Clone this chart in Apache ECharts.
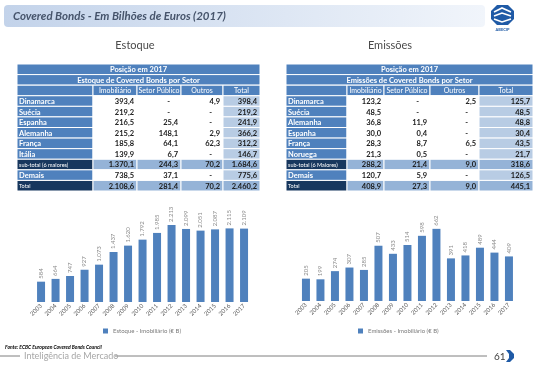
<!DOCTYPE html>
<html><head><meta charset="utf-8">
<script src="https://cdn.jsdelivr.net/npm/echarts@6/dist/echarts.min.js"></script>
<style>html,body{margin:0;padding:0;background:#fff}#c{width:544px;height:369px}</style>
</head><body><div id="c"></div>
<script>
// ---- Data ----
const years = ['2003','2004','2005','2006','2007','2008','2009','2010','2011','2012','2013','2014','2015','2016','2017'];
const estoqueImob = [584,664,747,927,1073,1437,1620,1792,1985,2213,2099,2051,2087,2115,2109];
const emissoesImob = [205,199,274,307,285,507,433,514,598,662,391,418,489,444,409];

const colHeaders = ['Imobiliário','Setor Público','Outros','Total'];

const estCountries = ['Dinamarca','Suécia','Espanha','Alemanha','França','Itália','sub-total (6 maiores)','Demais','Total'];
const estImob  = [393.4,219.2,216.5,215.2,185.8,139.9,1370.1,738.5,2108.6];
const estPub   = [null,null,25.4,148.1,64.1,6.7,244.3,37.1,281.4];
const estOut   = [4.9,null,null,2.9,62.3,null,70.2,null,70.2];
const estTot   = [398.4,219.2,241.9,366.2,312.2,146.7,1684.6,775.6,2460.2];

const emiCountries = ['Dinamarca','Suécia','Alemanha','Espanha','França','Noruega','sub-total (6 Maiores)','Demais','Total'];
const emiImob  = [123.2,48.5,36.8,30.0,28.3,21.3,288.2,120.7,408.9];
const emiPub   = [null,null,11.9,0.4,8.7,0.5,21.4,5.9,27.3];
const emiOut   = [2.5,null,null,null,6.5,null,9.0,null,9.0];
const emiTot   = [125.7,48.5,48.8,30.4,43.5,21.7,318.6,126.5,445.1];

// ---- helpers ----
function fmt(v, dec){
  if (v === null || v === undefined) return '-';
  const s = v.toFixed(dec);
  let [ip, dp] = s.split('.');
  ip = ip.replace(/\B(?=(\d{3})+(?!\d))/g, '.');
  return dp !== undefined ? ip + ',' + dp : ip;
}
const BLUE = '#4F81BD', DARK = '#17375E', LIGHT = '#B8CCE4', MID = '#95B3D7';
const FONT = 'Lato, "Liberation Sans", sans-serif';

function buildTable(cols, top, rowH, t1, t2, countries, c1, c2, c3, c4){
  const els = [];
  const x0 = cols[0], x1 = cols[cols.length-1];
  const rect = (x,y,w,h,fill)=>els.push({type:'rect',shape:{x:x,y:y,width:w,height:h},style:{fill:fill,stroke:'#fff',lineWidth:1}});
  const txt = (x,y,s,opt)=>els.push({type:'text',x:x,y:y,style:Object.assign({text:s,fill:'#fff',font:'bold 7px '+FONT,textAlign:'center',textVerticalAlign:'middle'},opt||{})});
  rect(x0, top, x1-x0, rowH, BLUE); txt((x0+x1)/2, top+rowH/2+0.5, t1, {font:'bold 7.5px '+FONT});
  rect(x0, top+rowH, x1-x0, rowH, BLUE); txt((x0+x1)/2, top+rowH*1.5+0.5, t2, {font:'bold 7.5px '+FONT});
  rect(x0, top+2*rowH, cols[1]-x0, rowH, BLUE);
  for (let j=0;j<4;j++){
    rect(cols[j+1], top+2*rowH, cols[j+2]-cols[j+1], rowH, BLUE);
    txt((cols[j+1]+cols[j+2])/2, top+2.5*rowH+0.5, colHeaders[j], {font:'7px '+FONT});
  }
  const data = [c1,c2,c3,c4];
  countries.forEach((name,i)=>{
    const y = top + (3+i)*rowH;
    const special = (i===6 || i===8);
    rect(x0, y, cols[1]-x0, rowH, special ? DARK : BLUE);
    txt(x0+2, y+rowH/2+0.5, name, {textAlign:'left', font: special ? '5.5px '+FONT : 'bold 7.5px '+FONT});
    for (let j=0;j<4;j++){
      let fill = '#fff';
      if (special) fill = MID; else if (j===3) fill = LIGHT;
      rect(cols[j+1], y, cols[j+2]-cols[j+1], rowH, fill);
      const v = data[j][i];
      const s = fmt(v,1);
      txt(cols[j+2]-3-(v===null?8:0), y+rowH/2+0.5, s, {textAlign:'right', fill:'#1a1a1a', font:'bold 7.5px '+FONT});
    }
  });
  return els;
}

const rowH = 127/12;
const leftCols = [17,93,137,181,223,260];
const rightCols = [286,347,384,430,479,533];

const graphics = [];
graphics.push({type:'rect',shape:{x:4,y:5,width:481,height:22,r:4},style:{fill:{type:'linear',x:0,y:0,x2:1,y2:0,colorStops:[{offset:0,color:'#c3d3ea'},{offset:1,color:'#f1f5fb'}]}}});
graphics.push({type:'text',x:13,y:16.5,style:{text:'Covered Bonds - Em Bilhões de Euros (2017)',fill:'#46546b',font:'italic bold 11.5px '+FONT,textVerticalAlign:'middle'}});
graphics.push({type:'polygon',shape:{points:[[497,5],[508,5],[514,11],[514,19],[508,25],[497,25],[491,19],[491,11]]},style:{fill:'#1f5aa6'}});
graphics.push({type:'polyline',shape:{points:[[494,12],[502,8],[511,12]]},style:{stroke:'#fff',lineWidth:1.6,fill:null}});
graphics.push({type:'polyline',shape:{points:[[494,16],[502,13],[511,16]]},style:{stroke:'#fff',lineWidth:1.6,fill:null}});
graphics.push({type:'polyline',shape:{points:[[494,19],[502,22],[511,19]]},style:{stroke:'#fff',lineWidth:1.6,fill:null}});
graphics.push({type:'text',x:502.5,y:30,style:{text:'ABECIP',fill:'#1f5aa6',font:'bold 4px '+FONT,textAlign:'center',textVerticalAlign:'middle'}});
graphics.push({type:'text',x:135,y:45,style:{text:'Estoque',fill:'#4a4a4a',font:'11px '+FONT,textAlign:'center',textVerticalAlign:'middle'}});
graphics.push({type:'text',x:390,y:45,style:{text:'Emissões',fill:'#4a4a4a',font:'11px '+FONT,textAlign:'center',textVerticalAlign:'middle'}});
graphics.push(...buildTable(leftCols, 64, rowH, 'Posição em 2017', 'Estoque de Covered Bonds por Setor', estCountries, estImob, estPub, estOut, estTot));
graphics.push(...buildTable(rightCols, 64, rowH, 'Posição em 2017', 'Emissões de Covered Bonds por Setor', emiCountries, emiImob, emiPub, emiOut, emiTot));
graphics.push({type:'text',x:5,y:347,style:{text:'Fonte: ECBC European Covered Bonds Council',fill:'#000',font:'italic bold 5px '+FONT,textVerticalAlign:'middle'}});
graphics.push({type:'line',shape:{x1:0,y1:356,x2:20,y2:356},style:{stroke:'#7f7f7f',lineWidth:1}});
graphics.push({type:'line',shape:{x1:115,y1:356,x2:487,y2:356},style:{stroke:'#7f7f7f',lineWidth:1}});
graphics.push({type:'text',x:24,y:356,style:{text:'Inteligência de Mercado',fill:'#a6a6a6',font:'9px '+FONT,textVerticalAlign:'middle'}});
graphics.push({type:'text',x:494,y:356.5,style:{text:'61',fill:'#404040',font:'10px '+FONT,textVerticalAlign:'middle'}});
graphics.push({type:'polygon',shape:{points:[[506,350],[510,350],[514,354],[514,358],[510,362],[506,362],[509,358],[509,354]]},style:{fill:'#1f5aa6'}});

const labelFmt = p => fmt(p.value,0);
const chart = echarts.init(document.getElementById('c'), null, {renderer:'canvas'});
chart.setOption({
  animation:false,
  textStyle:{fontFamily:FONT},
  grid:[
    {left:33.8, width:217.5, top:215, height:87},
    {left:298.7, width:217.5, top:224.7, height:76.3}
  ],
  xAxis:[0,1].map(i=>({
    type:'category', gridIndex:i, data:years,
    axisLine:{show:false}, axisTick:{show:false},
    axisLabel:{rotate:45, fontSize:6, color:'#595959', margin:3, interval:0}
  })),
  yAxis:[
    {type:'value', gridIndex:0, min:0, max:2500, show:false},
    {type:'value', gridIndex:1, min:0, max:700, show:false}
  ],
  legend:[
    {data:['Estoque - Imobiliário (€ B)'], left:98, top:323, itemWidth:5, itemHeight:5, itemGap:4, icon:'rect', textStyle:{fontSize:6,color:'#7a7a7a'}},
    {data:['Emissões - Imobiliário (€ B)'], left:353, top:323, itemWidth:5, itemHeight:5, itemGap:4, icon:'rect', textStyle:{fontSize:6,color:'#7a7a7a'}}
  ],
  series:[
    {name:'Estoque - Imobiliário (€ B)', type:'bar', xAxisIndex:0, yAxisIndex:0, data:estoqueImob, barWidth:8,
     itemStyle:{color:BLUE},
     label:{show:true, position:'top', rotate:90, align:'left', verticalAlign:'middle', distance:3, fontSize:6, color:'#8c8c8c', formatter:labelFmt}},
    {name:'Emissões - Imobiliário (€ B)', type:'bar', xAxisIndex:1, yAxisIndex:1, data:emissoesImob, barWidth:8,
     itemStyle:{color:BLUE},
     label:{show:true, position:'top', rotate:90, align:'left', verticalAlign:'middle', distance:3, fontSize:6, color:'#8c8c8c', formatter:labelFmt}}
  ],
  graphic:{elements:graphics}
});
</script></body></html>
